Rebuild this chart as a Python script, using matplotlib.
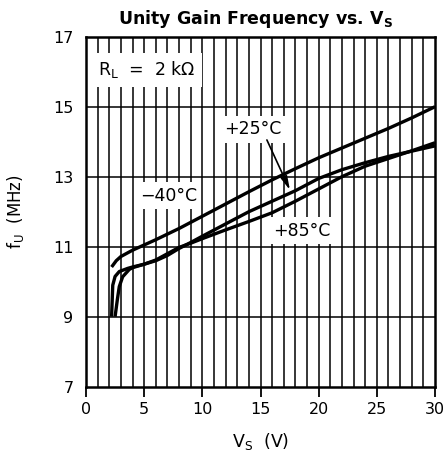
import matplotlib
matplotlib.use("Agg")
import matplotlib.pyplot as plt
import numpy as np

# ---- data ----
vs_m40 = [2.2, 2.6, 3.0, 4.0, 5.0, 6.0, 8.0, 10.0, 12.0, 14.0, 16.0, 18.0, 20.0, 22.0, 24.0, 26.0, 28.0, 30.0]
fu_m40 = [10.42, 10.6, 10.72, 10.9, 11.05, 11.2, 11.52, 11.87, 12.22, 12.57, 12.91, 13.23, 13.54, 13.82, 14.1, 14.38, 14.68, 15.0]

vs_p25 = [2.2, 2.3, 2.5, 2.86, 3.58, 4.0, 5.0, 6.0, 7.0, 8.0, 9.0, 10.0, 12.0, 14.0, 16.0, 18.0, 20.0, 22.0, 24.0, 26.0, 28.0, 30.0]
fu_p25 = [9.0, 9.9, 10.15, 10.29, 10.38, 10.42, 10.5, 10.6, 10.75, 10.95, 11.12, 11.3, 11.65, 12.0, 12.3, 12.6, 12.95, 13.2, 13.4, 13.58, 13.73, 13.88]

vs_p85 = [2.5, 2.7, 2.86, 3.15, 3.72, 4.0, 5.0, 6.0, 7.0, 8.0, 9.0, 10.0, 12.0, 14.0, 16.0, 18.0, 20.0, 22.0, 24.0, 26.0, 28.0, 30.0]
fu_p85 = [9.0, 9.5, 9.86, 10.14, 10.35, 10.4, 10.5, 10.62, 10.8, 10.98, 11.1, 11.23, 11.48, 11.72, 11.97, 12.3, 12.65, 13.0, 13.3, 13.52, 13.74, 13.97]

x_ticks = [0, 5, 10, 15, 20, 25, 30]
y_ticks = [7, 9, 11, 13, 15, 17]
v_grid = list(range(1, 30))
h_grid = [9, 11, 13, 15]

plt.rcParams['font.family'] = ['DejaVu Sans']

fig = plt.figure(figsize=(4.47, 4.70), dpi=100)
ax = fig.add_axes([86/447, 1 - 386.7/470, (435-86)/447, 350/470])

for v in v_grid:
    ax.axvline(v, color='black', lw=1.1, zorder=1)
for h in h_grid:
    ax.axhline(h, color='black', lw=1.1, zorder=1)

for vs, fu in [(vs_m40, fu_m40), (vs_p25, fu_p25), (vs_p85, fu_p85)]:
    ax.plot(vs, fu, color='black', lw=2.4, solid_capstyle='butt', zorder=5)

ax.set_xlim(0, 30)
ax.set_ylim(7, 17)
ax.set_xticks(x_ticks)
ax.set_yticks(y_ticks)
ax.tick_params(axis='x', direction='out', length=7.5, width=1.3, labelsize=11.5, pad=3.5)
ax.tick_params(axis='y', length=0, labelsize=11.5, pad=9)
for s in ax.spines.values():
    s.set_linewidth(1.8)

box = dict(facecolor='white', edgecolor='none', pad=3)
ax.text(1.0, 16.05, r'R$_\mathregular{L}$  =  2 k$\mathregular{\Omega}$', fontsize=12.5,
        ha='left', va='center', bbox=dict(facecolor='white', edgecolor='none', pad=5), zorder=3)
ax.text(7.1, 12.46, '\u221240\u00b0C', fontsize=12.5, ha='center', va='center', bbox=box, zorder=3)
ax.text(14.35, 14.35, '+25\u00b0C', fontsize=12.5, ha='center', va='center', bbox=box, zorder=3)
ax.text(18.56, 11.46, '+85\u00b0C', fontsize=12.5, ha='center', va='center', bbox=box, zorder=3)

ax.annotate('', xy=(17.53, 12.62), xytext=(15.55, 14.05),
            arrowprops=dict(arrowstyle='-|>,head_length=0.8,head_width=0.2', lw=1.2,
                            color='black', shrinkA=0, shrinkB=0), zorder=6)

ax.set_xlabel(r'V$_\mathregular{S}$  (V)', fontsize=12.5)
ax.xaxis.set_label_coords(0.5, -0.128)
ax.xaxis.label.set_va('top')
ax.set_ylabel(r'f$_\mathregular{U}$  (MHz)', fontsize=12)
ax.yaxis.set_label_coords(-0.172, 0.5)

fig.text(256/447, 1 - 19/470, r'Unity Gain Frequency vs. V$_\mathbf{S}$', fontsize=12.5,
         fontweight='bold', family='DejaVu Sans', ha='center', va='center')

fig.savefig('out.png', dpi=100)
